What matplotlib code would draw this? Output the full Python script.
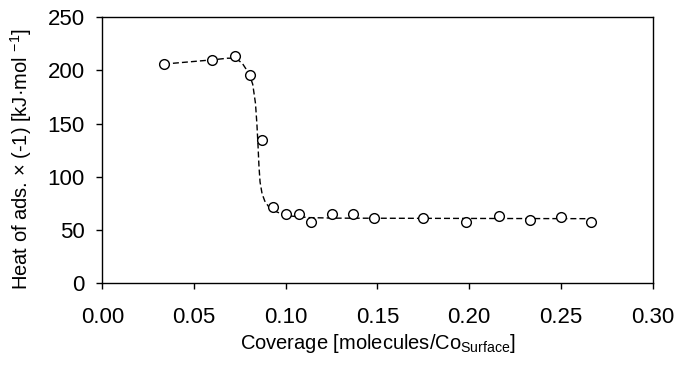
import matplotlib
matplotlib.use("Agg")
import matplotlib.pyplot as plt

# measured points (coverage, heat of adsorption)
coverage = [0.0336, 0.0599, 0.0722, 0.0804, 0.0868, 0.0928, 0.1004, 0.1071, 0.1140,
            0.1252, 0.1367, 0.1481, 0.1750, 0.1982, 0.2160, 0.2332, 0.2501, 0.2665]
heat = [206.3, 209.4, 213.4, 195.3, 134.4, 71.3, 65.0, 64.7, 57.8,
        65.3, 64.7, 60.9, 60.9, 57.5, 63.4, 59.1, 62.4, 57.8]

# dashed guide line
fit_x = [0.0336, 0.0470, 0.0602, 0.0683, 0.0728, 0.0764, 0.0800, 0.0820, 0.0835, 0.0843,
         0.0849, 0.0854, 0.0860, 0.0871, 0.0886, 0.0906, 0.0936, 0.0977, 0.1027, 0.1129,
         0.1281, 0.2665]
fit_y = [206.0, 208.0, 210.0, 211.5, 211.5, 206.5, 197.0, 187.0, 169.0, 149.0,
         129.0, 110.0, 95.0, 84.0, 77.0, 72.0, 68.0, 65.0, 63.0, 61.5,
         61.0, 60.5]

x_ticks = [0.00, 0.05, 0.10, 0.15, 0.20, 0.25, 0.30]
y_ticks = [0, 50, 100, 150, 200, 250]

plt.rcParams['font.family'] = ['Liberation Sans', 'DejaVu Sans']
plt.rcParams['mathtext.fontset'] = 'custom'
plt.rcParams['mathtext.rm'] = 'Liberation Sans'
plt.rcParams['mathtext.it'] = 'Liberation Sans'

fig = plt.figure(figsize=(6.76, 3.65), dpi=100)
ax = fig.add_axes([0.1513, 0.2247, 0.8142, 0.7279])

ax.plot(fit_x, fit_y, color='black', lw=1.0, dashes=(4.3, 2.2), zorder=2)
ax.plot(coverage, heat, linestyle='none', marker='o', markersize=7,
        markerfacecolor='white', markeredgecolor='black', markeredgewidth=1.0, zorder=3)

ax.set_xlim(0, 0.30)
ax.set_ylim(0, 250)
ax.set_xticks(x_ticks)
ax.set_xticklabels([f"{t:.2f}" for t in x_ticks])
ax.set_yticks(y_ticks)

for s in ax.spines.values():
    s.set_linewidth(1.0)
    s.set_color('black')
ax.tick_params(direction='out', length=4.3, width=1.0, labelsize=16)
ax.tick_params(axis='y', pad=8.4)
ax.tick_params(axis='x', pad=13)

ax.set_xlabel('Coverage [molecules/Co$_{\\mathrm{Surface}}$]', fontsize=14.5, labelpad=3)
ax.set_ylabel('Heat of ads. \u00d7 (-1) [kJ\u00b7mol $^{-1}$]', fontsize=14.5)
ax.yaxis.set_label_coords(-0.124, 0.467)

fig.savefig('out.png', dpi=100)
